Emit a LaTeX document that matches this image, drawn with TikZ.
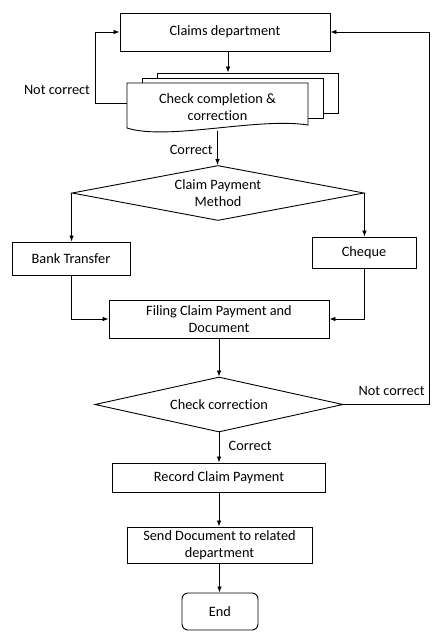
\documentclass[tikz,border=0pt]{standalone}
\usepackage{fontspec}
\setmainfont{Carlito}[Ligatures={NoCommon}]
\usetikzlibrary{arrows.meta,shapes.geometric}
\tikzset{
	every node/.style={font=\fontsize{14.3}{17}\selectfont},
	proc/.style={draw,line width=0.9pt,align=center,inner sep=0pt},
	decide/.style={draw,line width=0.9pt,diamond,align=center,inner sep=0pt},
	sheet/.style={draw,line width=0.9pt,fill=white,inner sep=0pt,minimum width=181pt,minimum height=40pt},
	flow/.style={line width=0.8pt,-{Latex[length=6pt,width=4.5pt]}}
}
\begin{document}
\begin{tikzpicture}[x=1pt,y=-1pt]
	\useasboundingbox (0,0) rectangle (447,643);
	% process boxes
	\node[proc,minimum width=210pt,minimum height=38pt] (claims) at (225,32) {Claims department};
	\node[sheet] (stackb) at (247.5,93) {};
	\node[sheet] (stackm) at (232.5,98) {};
	\draw[line width=0.9pt,fill=white] (127,83) -- (308,83) -- (308,125) .. controls (258,117) and (167,141) .. (127,128) -- cycle;
	\node[align=center,inner sep=0pt,minimum width=181pt,minimum height=48pt] (chk) at (217.5,107) {Check completion \&\\correction};
	\node[decide,minimum width=292pt,minimum height=55pt,aspect=5.3] (pay) at (218,193) {Claim Payment\\Method};
	\node[proc,minimum width=118pt,minimum height=33pt] (bank) at (71,258.5) {Bank Transfer};
	\node[proc,minimum width=104pt,minimum height=31pt] (cheque) at (364,252.5) {Cheque};
	\node[proc,minimum width=220pt,minimum height=38pt] (filing) at (219,319) {Filing Claim Payment and\\Document};
	\node[decide,minimum width=248pt,minimum height=55pt,aspect=4.5] (cc) at (219,404.5) {Check correction};
	\node[proc,minimum width=213pt,minimum height=29pt] (record) at (219,477.5) {Record Claim Payment};
	\node[proc,minimum width=185pt,minimum height=36pt] (send) at (219.5,545) {Send Document to related\\department};
	\node[proc,rounded corners=6pt,minimum width=76pt,minimum height=37pt] (end) at (220,611.5) {End};
	% connectors
	\draw[flow] ([xshift=3pt]claims.south) -- ([xshift=3pt]claims.south |- stackb.north);
	\draw[flow] ([yshift=4pt]chk.west) -- ++(-31,0) |- (claims.west);
	\node (nc1) at (57,90) {Not correct};
	\draw[flow] (chk.south) -- node[pos=0.55,left,xshift=-1pt] (ok1) {Correct} (chk.south |- pay.north);
	\draw[flow] (pay.west) -- (pay.west |- bank.north);
	\draw[flow] (pay.east) -- (pay.east |- cheque.north);
	\draw[flow] (bank.south) |- (filing.west);
	\draw[flow] (cheque.south) |- (filing.east);
	\draw[flow] (filing.south) -- (cc.north);
	\draw[flow] (cc.east) -- node[pos=0.56,above=5pt] (nc2) {Not correct} ++(86,0) |- (claims.east);
	\draw[flow] (cc.south) -- node[pos=0.45,right,xshift=6pt] (ok2) {Correct} (record.north);
	\draw[flow] (record.south) -- (record.south |- send.north);
	\draw[flow] (send.south) -- (send.south |- end.north);
\end{tikzpicture}
\end{document}
